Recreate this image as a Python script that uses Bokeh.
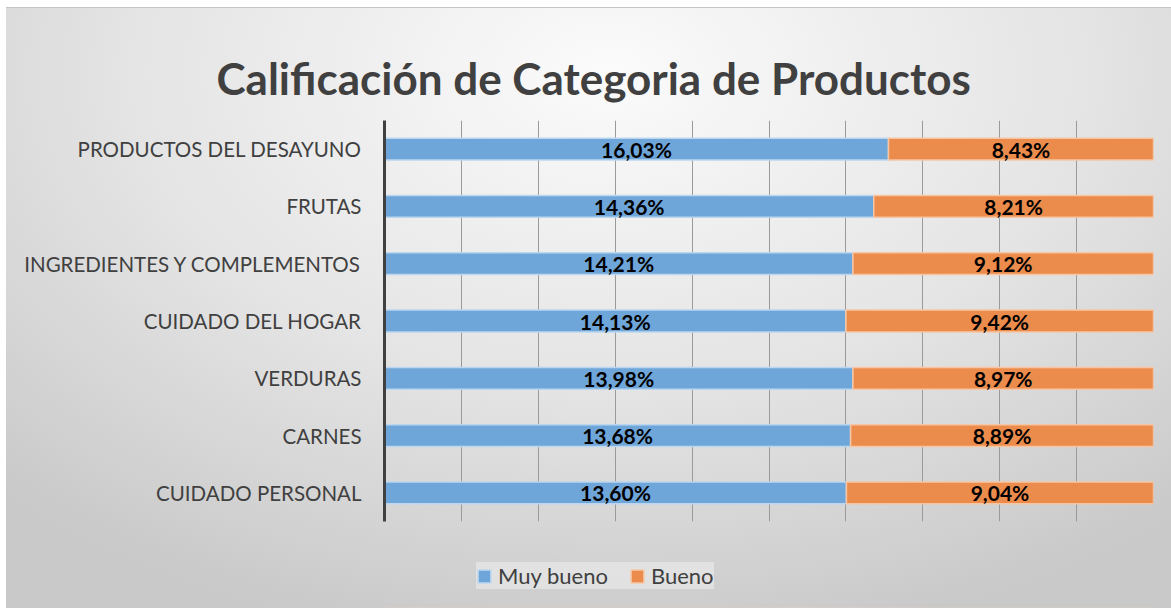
from bokeh.plotting import figure
from bokeh.layouts import column
from bokeh.models import ColumnDataSource, FactorRange, Legend, LegendItem, SingleIntervalTicker
from bokeh.core.properties import value
from bokeh.embed import file_html
from bokeh.resources import INLINE

categories = ["PRODUCTOS DEL DESAYUNO", "FRUTAS", "INGREDIENTES Y COMPLEMENTOS",
              "CUIDADO DEL HOGAR", "VERDURAS", "CARNES", "CUIDADO PERSONAL"]
muy_bueno = [16.03, 14.36, 14.21, 14.13, 13.98, 13.68, 13.60]
bueno = [8.43, 8.21, 9.12, 9.42, 8.97, 8.89, 9.04]
series_names = ["Muy bueno", "Bueno"]
colors = ["#6fa6d9", "#ec8c4c"]
edge_colors = ["#bcd6ef", "#f6c6a4"]

FONT = "Lato"
TXT = "#404040"

share_mb = [m / (m + b) * 100 for m, b in zip(muy_bueno, bueno)]

src = ColumnDataSource(dict(
    cat=categories,
    mb_l=[0] * len(categories), mb_r=share_mb,
    b_l=share_mb, b_r=[100] * len(categories),
    mb_c=[s / 2 for s in share_mb],
    b_c=[s + (100 - s) / 2 for s in share_mb],
    mb_t=[f"{v:.2f}%".replace(".", ",") for v in muy_bueno],
    b_t=[f"{v:.2f}%".replace(".", ",") for v in bueno],
))

p = figure(width=1171, height=528, output_backend="svg", toolbar_location=None,
           y_range=FactorRange(factors=list(reversed(categories)), range_padding=0),
           x_range=(0, 100), min_border_left=384, min_border_right=18,
           min_border_top=120, min_border_bottom=7)
p.border_fill_alpha = 0
p.background_fill_alpha = 0
p.outline_line_color = None

r1 = p.hbar(y="cat", left="mb_l", right="mb_r", height=0.38, source=src,
            fill_color=colors[0], line_color=edge_colors[0], line_width=1.5)
r2 = p.hbar(y="cat", left="b_l", right="b_r", height=0.38, source=src,
            fill_color=colors[1], line_color=edge_colors[1], line_width=1.5)

for xc, tc in (("mb_c", "mb_t"), ("b_c", "b_t")):
    p.text(x=xc, y="cat", text=tc, source=src, text_align="center", text_baseline="middle",
           text_font=value(FONT), text_font_style="bold", text_font_size="21px", text_color="#000000")

p.xaxis.visible = False
p.xgrid.ticker = SingleIntervalTicker(interval=10)
p.xgrid.grid_line_color = "#9a9a9a"
p.xgrid.grid_line_width = 1
p.ygrid.grid_line_color = None

p.yaxis.axis_line_color = "#404040"
p.yaxis.axis_line_width = 3
p.yaxis.major_tick_line_color = None
p.yaxis.minor_tick_line_color = None
p.yaxis.major_label_standoff = 17
p.yaxis.major_label_text_font = FONT
p.yaxis.major_label_text_font_size = "20.5px"
p.yaxis.major_label_text_color = TXT

p.title.text = "Calificación de Categoria de Productos"
p.title.align = "left"
p.title.offset = -168
p.title.text_font = FONT
p.title.text_font_style = "bold"
p.title.text_font_size = "44px"
p.title.text_color = TXT
p.title.standoff = 34

# legend strip below the chart (proxy renderers sit outside the visible range)
p2 = figure(width=1171, height=80, output_backend="svg", toolbar_location=None,
            x_range=(0, 1), y_range=(0, 1), min_border=0)
p2.axis.visible = False
p2.grid.visible = False
p2.border_fill_alpha = 0
p2.background_fill_alpha = 0
p2.outline_line_color = None
l1 = p2.hbar(y=[-5], left=[0], right=[1], height=0.38,
             fill_color=colors[0], line_color=edge_colors[0], line_width=1.5)
l2 = p2.hbar(y=[-5], left=[0], right=[1], height=0.38,
             fill_color=colors[1], line_color=edge_colors[1], line_width=1.5)

legend = Legend(items=[LegendItem(label=series_names[0], renderers=[l1]),
                       LegendItem(label=series_names[1], renderers=[l2])],
                orientation="horizontal", location=(92, 19),
                label_text_font=FONT, label_text_font_size="22px", label_text_color=TXT,
                label_height=22,
                glyph_width=16, glyph_height=16, spacing=21, padding=14, margin=0,
                label_standoff=6,
                background_fill_color="#ececec", background_fill_alpha=0.6,
                border_line_color=None)
p2.add_layout(legend, "center")

layout = column(p, p2, spacing=0)
layout.styles = {"background": ("linear-gradient(#ffffff, #ffffff) 0 0 / 6px 100% no-repeat, "
                                "linear-gradient(#ffffff, #ffffff) 0 0 / 100% 7px no-repeat, "
                                "linear-gradient(#c4c4c4, #c4c4c4) 6px 7px / 100% 1px no-repeat, "
                                "radial-gradient(ellipse 75% 95% at 52% 12%, #fbfbfb 0%, #e4e4e4 55%, #c9c9c9 100%)")}

open("out.html", "w").write(file_html(layout, INLINE))
